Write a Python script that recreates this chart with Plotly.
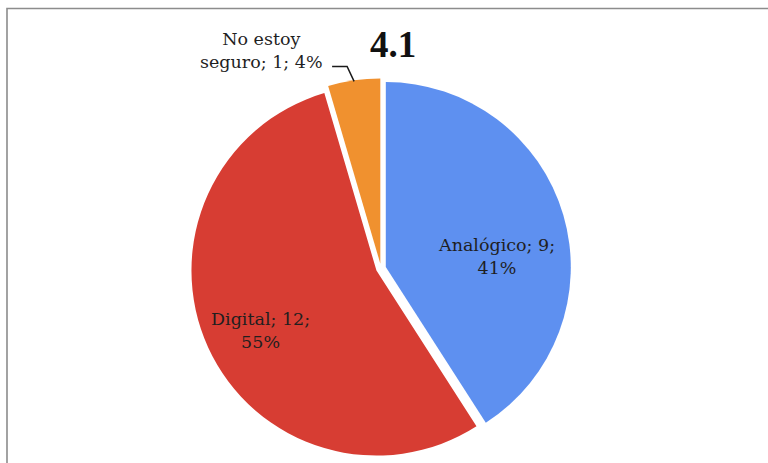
import math
import plotly.graph_objects as go

# --- data -------------------------------------------------------------
labels = ["Analógico", "Digital", "No estoy seguro"]
values = [9, 12, 1]
pct_labels = [41, 55, 4]
colors = ["#5E90F0", "#D73D33", "#F0912F"]
chart_title = "4.1"

# --- geometry (pixels) ------------------------------------------------
W, H = 768, 463
CX, CY, R = 381, 268.5, 185
PULL = 0.027
FONT = "DejaVu Serif"


def px(x):
    return x / W


def py(y):
    return 1 - y / H


box = 2 * R * (1 + PULL)
domain_x = [px(CX - box / 2), px(CX + box / 2)]
domain_y = [py(CY + box / 2), py(CY - box / 2)]

fig = go.Figure(
    go.Pie(
        labels=labels,
        values=values,
        sort=False,
        direction="clockwise",
        rotation=0,
        pull=[PULL] * len(values),
        marker=dict(colors=colors, line=dict(width=0)),
        textinfo="none",
        hoverinfo="label+value+percent",
        domain=dict(x=domain_x, y=domain_y),
        showlegend=False,
    )
)

# slice mid-angles (degrees clockwise from 12 o'clock)
total = sum(values)
mids = []
acc = 0
for v in values:
    mids.append((acc + v / 2) / total * 360)
    acc += v


def polar(angle_deg, dist):
    a = math.radians(angle_deg)
    return CX + dist * math.sin(a), CY - dist * math.cos(a)


# label offsets from the pie centre (pixels)
label_pos = [(CX + 115, CY - 12), (CX - 121, CY + 62), (261.5, 50.5)]
label_text = [
    f"{labels[0]}; {values[0]};<br>{pct_labels[0]}%",
    f"{labels[1]}; {values[1]};<br>{pct_labels[1]}%",
    "No estoy<br>seguro; {}; {}%".format(values[2], pct_labels[2]),
]

annotations = []
for (x, y), t in zip(label_pos, label_text):
    annotations.append(
        dict(
            x=px(x), y=py(y), xref="paper", yref="paper",
            text=t, showarrow=False, align="center",
            xanchor="center", yanchor="middle",
            font=dict(family=FONT, size=17.5, color="#1f1f1f"),
        )
    )

annotations.append(
    dict(
        x=px(393), y=py(44), xref="paper", yref="paper",
        text=f"<b>{chart_title}</b>", showarrow=False,
        xanchor="center", yanchor="middle",
        font=dict(family="Liberation Serif", size=37, color="#111111"),
    )
)

# leader line for the small slice
ex, ey = polar(mids[2], R * (1 + PULL) - 1)
kx, ky = ex - 7, ey - 15
lx, ly = kx - 15, ky
leader = dict(
    type="path", xref="paper", yref="paper",
    path=f"M {px(ex)},{py(ey)} L {px(kx)},{py(ky)} L {px(lx)},{py(ly)}",
    line=dict(color="#1a1a1a", width=1.5),
)

frame = dict(
    type="rect", xref="paper", yref="paper",
    x0=px(7), y0=py(8.5), x1=px(W + 10), y1=py(H + 10),
    line=dict(color="#8c8c8c", width=1.6),
)

fig.update_layout(
    width=W, height=H,
    margin=dict(l=0, r=0, t=0, b=0),
    paper_bgcolor="white",
    plot_bgcolor="white",
    annotations=annotations,
    shapes=[frame, leader],
)

fig.write_html("out.html")
